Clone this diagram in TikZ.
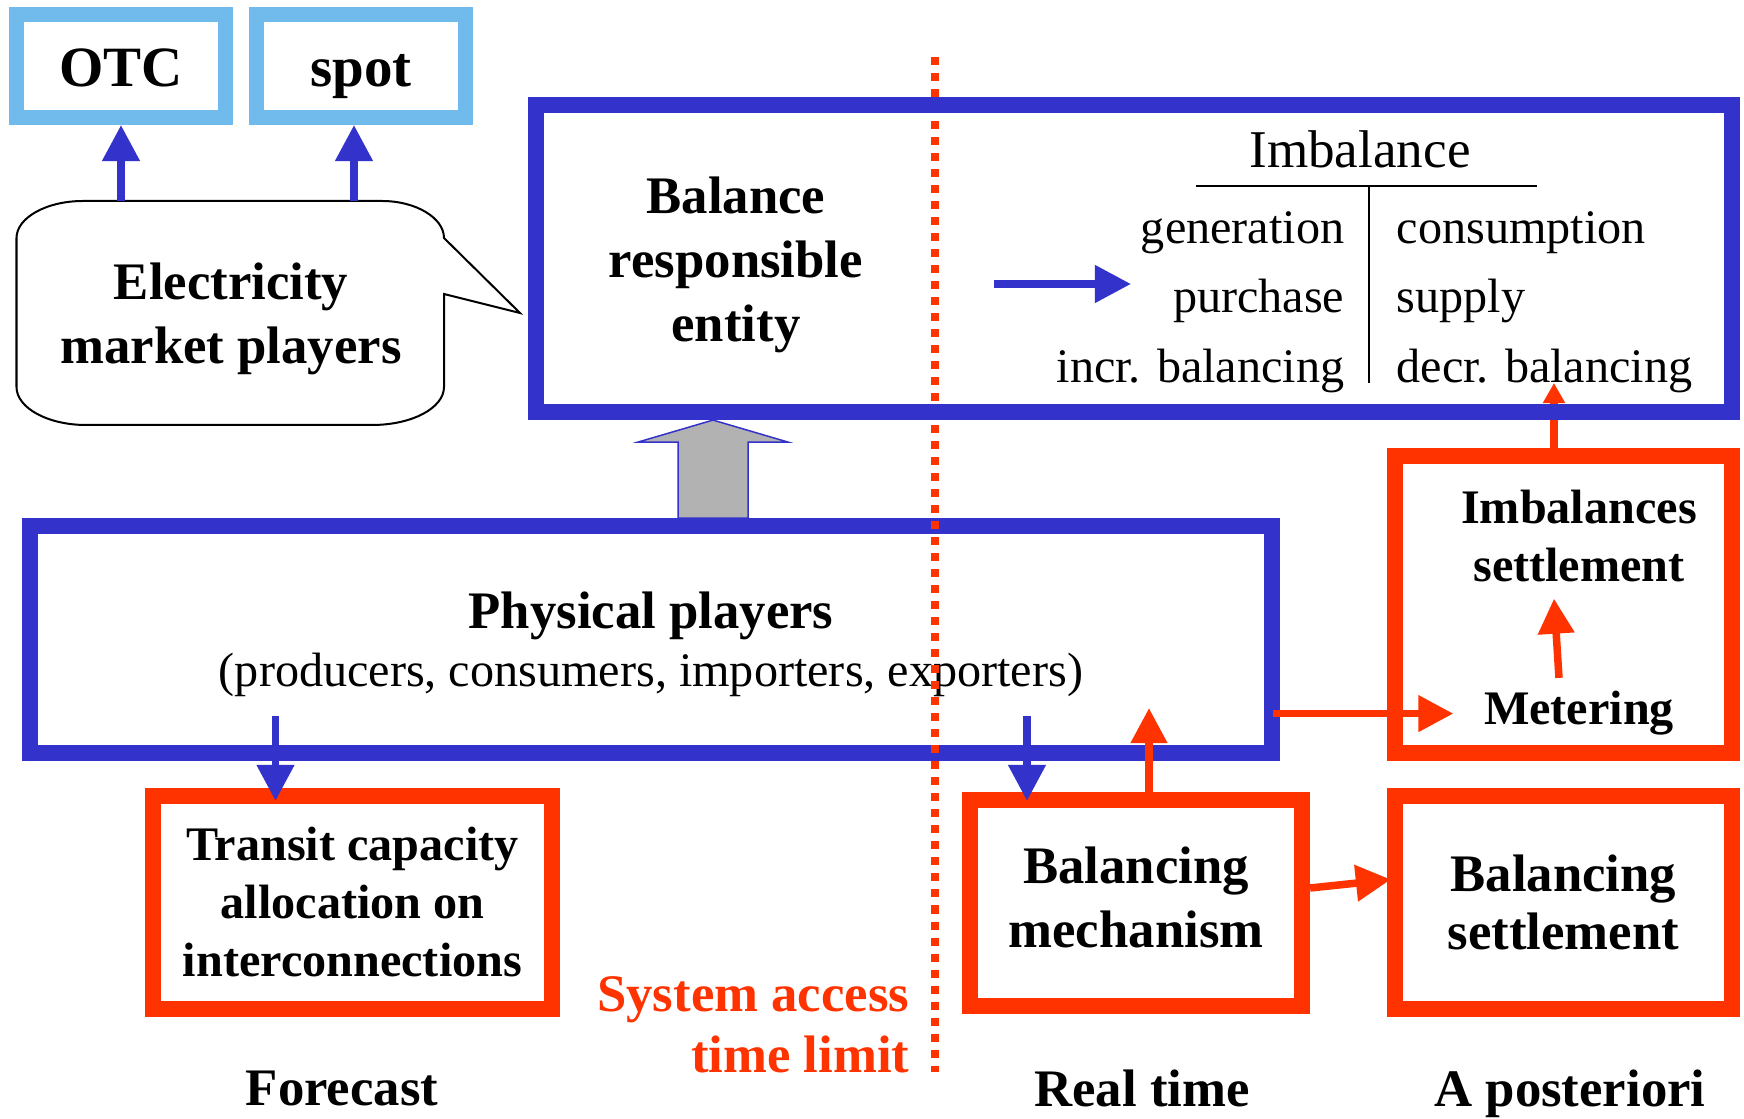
\documentclass[tikz,border=0pt]{standalone}
\usepackage{fontspec}
\setmainfont{Liberation Serif}
\usepackage{xcolor}
\usepackage{tikz}
\usetikzlibrary{arrows.meta,positioning,calc}

\definecolor{brpblue}{RGB}{51,51,204}
\definecolor{sysred}{RGB}{255,51,0}
\definecolor{mktblue}{RGB}{112,186,236}
\definecolor{blockgray}{RGB}{178,178,178}

\begin{document}
\begin{tikzpicture}[
    x=0.01cm, y=-0.01cm,
    bluebox/.style={rectangle, draw=brpblue, line width=0.16cm, inner sep=0pt},
    redbox/.style={rectangle, draw=sysred, line width=0.16cm, inner sep=0pt, align=center},
    mktbox/.style={rectangle, draw=mktblue, line width=0.15cm, inner sep=0pt, minimum width=2.09cm, minimum height=1.03cm, text height=0.42cm, text depth=0.01cm, font=\fontsize{16.2}{19}\selectfont\bfseries},
    big/.style={font=\fontsize{15}{18.2}\selectfont\bfseries, inner sep=0pt, align=center},
    small/.style={font=\fontsize{13.7}{16.5}\selectfont\bfseries, inner sep=0pt, align=center},
    plain/.style={font=\fontsize{13.7}{16.5}\selectfont, inner sep=0pt},
    bluearrow/.style={->, >={Triangle[length=0.36cm, width=0.36cm]}, draw=brpblue, line width=0.075cm},
    redarrow/.style={->, >={Triangle[length=0.35cm, width=0.35cm]}, draw=sysred, line width=0.075cm}
]
\useasboundingbox (0,0) rectangle (1744,1119);

% market players bubble
\draw[line width=0.02cm] (83,201) -- (382,201)
    .. controls (416,201) and (444,218) .. (444,238)
    -- (520,313) -- (444,294) -- (444,387)
    .. controls (444,408) and (412,425) .. (372,425)
    -- (86,425)
    .. controls (48,425) and (16.5,408) .. (16.5,387)
    -- (16.5,238)
    .. controls (16.5,218) and (46,201) .. (83,201) -- cycle;
\node[big] (emp) at (231,319) {Electricity\\market players};
\coordinate (bubtop) at (231,201);

\node[mktbox] (otc) at (121,66) {OTC};
\node[mktbox] (spot) at (361,66) {spot};

\draw[bluearrow] (bubtop -| otc.south) -- (otc.south);
\draw[bluearrow] ($(bubtop -| spot.south)+(-7,0)$) -- ($(spot.south)+(-7,0)$);

% physical players
\node[bluebox, minimum width=12.42cm, minimum height=2.27cm, align=center, font=\fontsize{15}{16.5}\selectfont] (pp) at (651,639.5) {\textbf{\rule{0pt}{0.47cm}Physical players}\\{\fontsize{13.7}{16.5}\selectfont (producers, consumers, importers, exporters)}};

% system access time limit
\draw[sysred, line width=0.08cm, dash pattern=on 0.08cm off 0.08cm] (935,57) -- (935,1072);

% imbalance table
\node[plain, font=\fontsize{15.1}{18}\selectfont, anchor=base] (imb) at (1360,168) {Imbalance};
\draw[line width=0.02cm] (1196,186) -- (1537,186);
\draw[line width=0.015cm] (1369,186) -- (1369,383);
\foreach \lft/\rgt/\yy [count=\i] in {generation/consumption/244, purchase/supply/313, incr. balancing/decr. balancing/383} {
    \node[plain, anchor=base east] (l\i) at (1345,\yy) {\lft};
    \node[plain, anchor=base west] (r\i) at (1396,\yy) {\rgt};
}

\node[redbox, minimum width=3.37cm, minimum height=2.97cm] (is) at (1563.5,604.5) {};
\node[small] (isl) at (1579,536) {Imbalances\\settlement};
\node[small, anchor=base] (met) at (1579,725) {Metering};

\draw[redarrow, >={Triangle[length=0.2cm, width=0.21cm]}] ($(is.north)+(-9.5,0)$) -- ($(r3.base -| is.north)+(-9.5,0)$);

% balance responsible entity
\node[bluebox, minimum width=11.96cm, minimum height=3.07cm] (bre) at (1134,258.5) {};
\node[big] (brl) at (736,265) {Balance\\responsible\\entity};
\coordinate (bfrom) at (994,284);
\coordinate (bto) at (1131,284);
\draw[bluearrow] (bfrom) -- (bto);

\coordinate (gtip) at ($(bre.south -| pp.north)+(62,0)$);
\draw[draw=brpblue, fill=blockgray, line width=0.015cm] (gtip) -- ++(75,22) -- ++(-40,0) -- ++(0,76) -- ++(-70,0) -- ++(0,-76) -- ++(-40,0) -- cycle;

% operators
\node[redbox, small, minimum width=3.99cm, minimum height=2.13cm] (tr) at (352.5,902.5) {Transit capacity\\allocation on\\interconnections};
\node[redbox, big, minimum width=3.32cm, minimum height=2.06cm] (bm) at (1136,903) {Balancing\\mechanism\rule[-0.11cm]{0pt}{0.11cm}};
\node[redbox, big, font=\fontsize{15}{16.5}\selectfont\bfseries, minimum width=3.37cm, minimum height=2.13cm] (bs) at (1563.5,902.5) {Balancing\\settlement};

\draw[bluearrow] ($(tr.north |- pp.south)+(-77,-45)$) -- ($(tr.north)+(-77,13)$);
\draw[bluearrow] ($(bm.north |- pp.south)+(-109,-45)$) -- ($(bm.north)+(-109,9)$);
\draw[redarrow] ($(bm.north)+(13,0)$) -- ($(pp.south -| bm.north)+(13,-53)$);
\draw[redarrow] ($(bm.east)+(0,-15)$) -- ($(bs.west)+(4,-23)$);
\draw[redarrow] ($(pp.east |- met.west)+(-7,0)$) -- ($(met.west)+(-30,0)$);
\draw[redarrow] ($(met.north)+(-20,-13)$) -- ($(isl.south)+(-25,16)$);

\node[big, text=sysred, align=right, anchor=east, font=\fontsize{15}{17.4}\selectfont\bfseries] (sat) at (910,1024.5) {System access\\time limit};

\node[big, anchor=base] (fc) at (342,1106) {Forecast};
\node[big, anchor=base] (rt) at (1142,1107) {Real time};
\node[big, anchor=base] (ap) at (1570,1107) {A posteriori};

\end{tikzpicture}
\end{document}
